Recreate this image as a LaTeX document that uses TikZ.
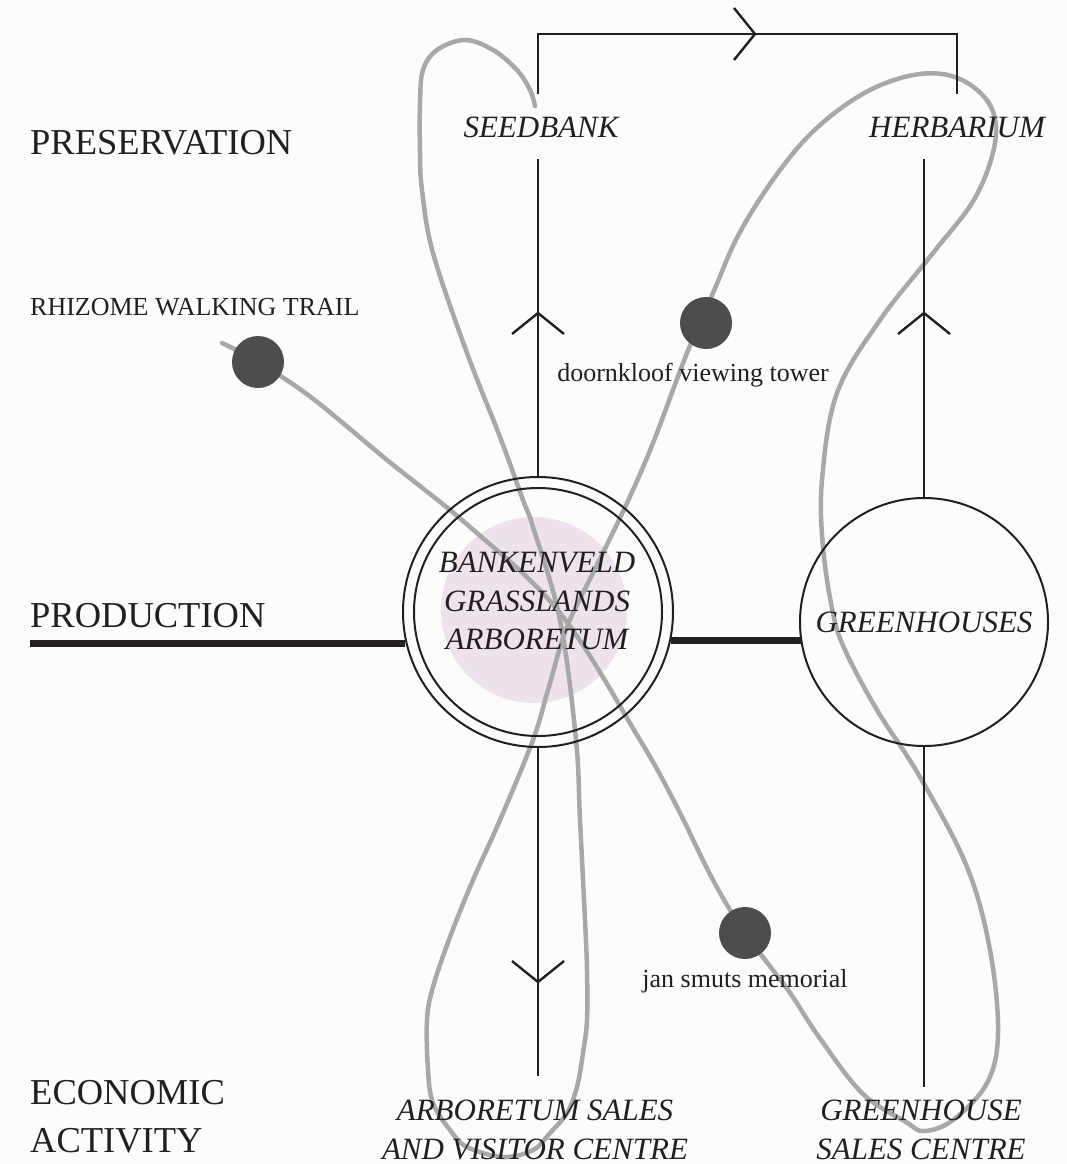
\documentclass[tikz,border=0pt]{standalone}
\usepackage{xcolor}
\usepackage{fontspec}
\setmainfont{Liberation Serif}
\usetikzlibrary{positioning}

\definecolor{ink}{RGB}{35,31,32}
\definecolor{trail}{RGB}{168,168,168}
\definecolor{stop}{RGB}{77,77,77}
\definecolor{blush}{RGB}{238,227,236}
\definecolor{paper}{RGB}{252,252,250}

\begin{document}
\begin{tikzpicture}[x=1pt, y=-1pt,
    big/.style={font=\fontsize{36.5}{40}\selectfont, text=ink, inner sep=0, anchor=base west},
    place/.style={font=\fontsize{31}{38.5}\selectfont\itshape, text=ink, align=center, inner sep=0},
    small/.style={font=\fontsize{26}{30}\selectfont, text=ink, inner sep=0},
    stopdot/.style={circle, fill=stop, minimum size=52pt, inner sep=0},
    ring/.style={circle, draw=ink, line width=2pt, inner sep=0},
    link/.style={draw=ink, line width=2.4pt}]

    \fill[paper] (0,0) rectangle (1067,1164);
    \useasboundingbox (0,0) rectangle (1067,1164);

    \fill[blush] (534,610) circle (93pt);

    % walking trail
    \draw[trail, line width=4.5pt, line cap=round] plot[smooth, tension=0.6] coordinates {
        (222,343) (258,362) (312,398) (387,460) (470,527) (560,613) (640,740)
        (676,805) (713,880) (745,933) (788,990) (819,1037) (862,1093) (906,1122)
        (924,1131) (953,1120) (987,1083) (998,1033) (990,950) (967,867) (920,777)
        (877,710) (845,650) (833,613) (823,547) (822,480) (837,393)
        (880,320) (933,253) (975,198) (995,143) (990,105) (960,79) (920,74)
        (870,90) (820,125) (780,170) (740,232) (713,293) (687,353) (653,443)
        (627,503) (597,565) (567,627) (548,690) (533,740) (500,820) (473,880)
        (450,937) (433,987) (427,1020) (428,1070) (433,1103) (450,1130) (467,1147)
        (503,1157) (533,1150) (550,1133) (567,1113) (577,1087) (583,1053) (587,1020)
        (587,970) (585,920) (580,820) (576,740) (560,620) (533,527) (523,500)
        (500,437) (467,353) (433,253) (422,190) (420,153) (420,103) (423,70)
        (437,50) (465,40) (493,50) (517,70) (530,90) (535,106)};

    \node (arb) at (538,612) [ring, minimum size=270pt] {};
    \node (arbin) at (arb) [ring, minimum size=248pt] {};
    \node (arbtxt) at (537,601) [place] {BANKENVELD\\GRASSLANDS\\ARBORETUM};
    \node (gh) at (924,622) [ring, minimum size=248pt, place] {GREENHOUSES};

    \node (seedbank) at (541,137) [place, anchor=base] {SEEDBANK};
    \node (herbarium) at (957,137) [place, anchor=base] {HERBARIUM};
    \node (arbsales) at (535,1130) [place] {ARBORETUM SALES\\AND VISITOR CENTRE};
    \node (ghsales) at (921,1130) [place] {GREENHOUSE\\SALES CENTRE};

    \coordinate (sbhead) at (538,94);
    \coordinate (sbcorner) at (538,34);
    \coordinate (hbcorner) at (957,34);
    \coordinate (hbhead) at (957,94);
    \coordinate (sbfoot) at (538,159);
    \coordinate (hbfoot) at (924,159);
    \coordinate (arbend) at (538,1076);
    \coordinate (ghend) at (924,1087);
    \coordinate (prodstart) at (30,643);

    \draw[link] (sbhead) -- (sbcorner) -- (hbcorner) -- (hbhead);
    \draw[link] (sbfoot) -- (arb);
    \draw[link] (hbfoot) -- (gh);
    \draw[link] (arb) -- (arbend);
    \draw[link] (gh) -- (ghend);
    \draw[ink, line width=7pt] (prodstart) -- (prodstart -| arb.193);
    \draw[ink, line width=7pt] (arb.-12) -- (arb.-12 -| gh.189);

    \foreach \x/\y/\a in {538/313/90, 924/313/90, 538/982/-90, 755/34/0} {
        \draw[link, shift={(\x,\y)}, rotate=\a] (-21,-26) -- (0,0) -- (-21,26);
    }

    \node (trailhead) at (258,362) [stopdot] {};
    \node (tower) at (706,323) [stopdot] {};
    \node (memorial) at (745,933) [stopdot] {};

    \node (rhizome) at (30,315) [small, anchor=base west] {RHIZOME WALKING TRAIL};
    \node (towerlbl) at (693,381) [small, anchor=base] {doornkloof viewing tower};
    \node (memoriallbl) [small, below=10pt of memorial] {jan smuts memorial};

    \node (pres) at (30,154) [big] {PRESERVATION};
    \node (prod) at (30,627) [big] {PRODUCTION};
    \node (econ) at (30,1104) [big] {ECONOMIC};
    \node (act) at (30,1152) [big] {ACTIVITY};
\end{tikzpicture}
\end{document}
